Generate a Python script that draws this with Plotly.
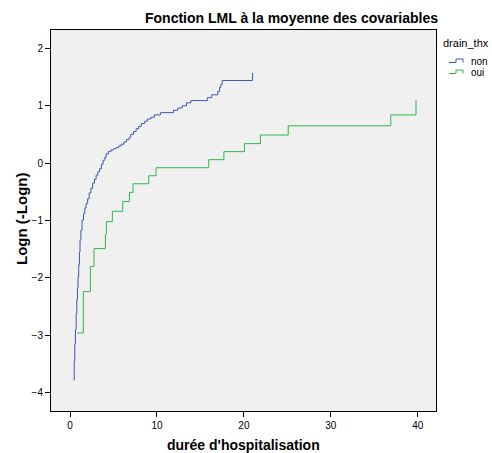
import plotly.graph_objects as go

# Log(-log survival) step curves by drainage group
non_x = [0.42, 0.48, 0.55, 0.62, 0.70, 0.78, 0.85, 0.92, 1.00, 1.08, 1.15, 1.25,
         1.38, 1.55, 1.70, 1.85, 2.03, 2.20, 2.40, 2.60, 2.80, 3.00, 3.20, 3.40,
         3.60, 3.80, 4.00, 4.15, 4.40, 4.70, 5.00, 5.30, 5.60, 5.90, 6.20, 6.50,
         6.80, 7.00, 7.30, 7.60, 7.90, 8.20, 8.60, 8.90, 9.30, 9.70, 10.40, 11.90,
         12.40, 12.90, 13.40, 13.90, 15.80, 16.30, 17.00, 17.20, 17.35, 17.50, 21.00]
non_y = [-3.78, -3.45, -3.15, -2.90, -2.62, -2.38, -2.18, -1.98, -1.77, -1.55, -1.34, -1.17,
         -0.99, -0.88, -0.78, -0.70, -0.62, -0.52, -0.44, -0.35, -0.28, -0.21, -0.15, -0.10,
         -0.02, 0.05, 0.10, 0.16, 0.20, 0.23, 0.25, 0.27, 0.30, 0.33, 0.37, 0.41,
         0.45, 0.50, 0.55, 0.60, 0.64, 0.69, 0.73, 0.77, 0.80, 0.84, 0.88, 0.92,
         0.96, 1.00, 1.05, 1.09, 1.14, 1.19, 1.25, 1.32, 1.37, 1.44, 1.57]

oui_x = [0.84, 1.53, 2.34, 2.76, 4.07, 4.18, 4.87, 6.06, 6.83, 7.25, 9.05, 9.90,
         15.96, 17.70, 20.06, 21.90, 25.10, 36.90, 39.80]
oui_y = [-2.96, -2.24, -1.80, -1.49, -1.24, -1.02, -0.84, -0.67, -0.51, -0.36, -0.22, -0.08,
         0.06, 0.20, 0.34, 0.49, 0.65, 0.84, 1.10]

groups = ["non", "oui"]
colors = ["#3E58AC", "#2EB848"]

x_ticks = [0, 10, 20, 30, 40]
y_ticks = [-4, -3, -2, -1, 0, 1, 2]

W, H = 492, 453
L, R, T, B = 51, 56, 30, 42

fig = go.Figure()
for name, xs, ys, c in zip(groups, [non_x, oui_x], [non_y, oui_y], colors):
    fig.add_trace(go.Scatter(x=xs, y=ys, mode="lines", name=name,
                             line=dict(shape="hv", color=c, width=1),
                             showlegend=False, hoverinfo="skip"))

pw, ph = W - L - R, H - T - B


def px(xp):
    return (xp - L) / pw


def py(yp):
    return (H - B - yp) / ph


font = "Liberation Sans, Arial, sans-serif"
annotations = [
    dict(text="<b>Fonction LML à la moyenne des covariables</b>", x=px(291), y=py(18),
         xref="paper", yref="paper", showarrow=False, xanchor="center", yanchor="middle",
         font=dict(size=14, color="black", family=font)),
    dict(text="<b>durée d'hospitalisation</b>", x=px(243), y=py(445),
         xref="paper", yref="paper", showarrow=False, xanchor="center", yanchor="middle",
         font=dict(size=14, color="black", family=font)),
    dict(text="<b>Logn (-Logn)</b>", x=px(21), y=py(219), textangle=-90,
         xref="paper", yref="paper", showarrow=False, xanchor="center", yanchor="middle",
         font=dict(size=15, color="black", family=font)),
    dict(text="drain_thx", x=px(441), y=py(43),
         xref="paper", yref="paper", showarrow=False, xanchor="left", yanchor="middle",
         font=dict(size=11, color="black", family=font)),
]

shapes = []
for i, (name, c) in enumerate(zip(groups, colors)):
    yc = 61 + i * 11
    path = (f"M {px(449)},{py(yc + 1.5)} L {px(456)},{py(yc + 1.5)} L {px(456)},{py(yc - 2)} "
            f"L {px(463)},{py(yc - 2)} L {px(463)},{py(yc + 1.5)}")
    shapes.append(dict(type="path", path=path, xref="paper", yref="paper",
                       line=dict(color=c, width=1)))
    annotations.append(dict(text=name, x=px(469), y=py(yc), xref="paper", yref="paper",
                            showarrow=False, xanchor="left", yanchor="middle",
                            font=dict(size=10, color="black", family=font)))

fig.update_layout(
    width=W, height=H,
    margin=dict(l=L, r=R, t=T, b=B, pad=0),
    paper_bgcolor="white", plot_bgcolor="#F0F0F0",
    font=dict(family=font, size=10, color="black"),
    annotations=annotations, shapes=shapes,
    showlegend=False,
)
fig.update_xaxes(range=[-2.19, 42.1], tickvals=x_ticks, ticks="outside", ticklen=5,
                 tickcolor="black", showgrid=False, zeroline=False, showline=True,
                 linecolor="black", linewidth=1, mirror=True,
                 tickfont=dict(size=10, color="black"))
fig.update_yaxes(range=[-4.32, 2.32], tickvals=y_ticks, ticks="outside", ticklen=5,
                 tickcolor="black", showgrid=False, zeroline=False, showline=True,
                 linecolor="black", linewidth=1, mirror=True,
                 tickfont=dict(size=10, color="black"))

fig.write_html("out.html")
